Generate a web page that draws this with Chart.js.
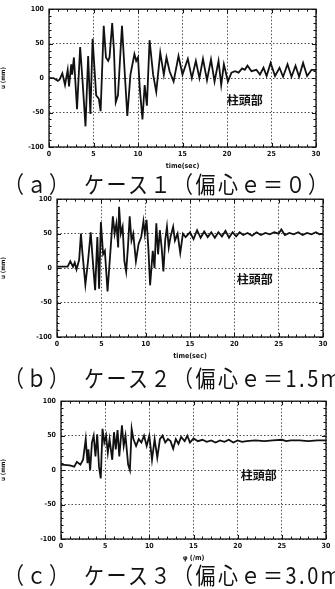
<!DOCTYPE html>
<html>
<head>
<meta charset="utf-8">
<script src="https://cdn.jsdelivr.net/npm/chart.js@4"></script>
<style>
  body { margin: 0; background: #fff; width: 335px; height: 589px; overflow: hidden; position: relative; }
  canvas { position: absolute; left: 0; }
  .cap {
    position: absolute; left: 4px; white-space: nowrap;
    font-family: "Noto Sans CJK JP", sans-serif; font-size: 20px; line-height: 24px;
    letter-spacing: 2.5px; color: #111; transform: scaleY(1.15); transform-origin: left center;
  }
</style>
</head>
<body>
<canvas id="c1" width="335" height="170" style="top:0px"></canvas>
<div class="cap" style="top:172px">（ａ）　ケース１（偏心ｅ＝０）</div>
<canvas id="c2" width="335" height="170" style="top:190px"></canvas>
<div class="cap" style="top:366px">（ｂ）　ケース２（偏心ｅ＝1.5ｍ</div>
<canvas id="c3" width="335" height="170" style="top:392px"></canvas>
<div class="cap" style="top:563px">（ｃ）　ケース３（偏心ｅ＝3.0ｍ</div>
<script>
// case 1 (e = 0)
const t1 = [
  0, 0.5, 1.0, 1.2, 1.5, 1.8, 2.1, 2.25, 2.5, 2.6,
  2.8, 3.15, 3.5, 3.8, 4.1, 4.4, 4.65, 4.9, 5.3, 5.6,
  5.8, 6.15, 6.4, 6.65, 6.8, 7.1, 7.3, 7.5, 7.75, 7.95,
  8.2, 8.5, 8.8, 9.15, 9.3, 9.6, 9.8, 10.0, 10.2, 10.5,
  10.75, 11.0, 11.3, 11.7, 12.05, 12.5, 12.9, 13.2, 13.55, 14.0,
  14.55, 15.0, 15.6, 16.05, 16.5, 16.9, 17.3, 17.75, 18.2, 18.6,
  19.05, 19.35, 19.65, 20.1, 20.5, 20.9, 21.3, 21.7, 22.0, 22.3,
  22.75, 23.3, 23.7, 24.1, 24.45, 24.9, 25.4, 25.9, 26.3, 26.8,
  27.25, 27.7, 28.1, 28.55, 29.0, 29.5, 30
];
const u1 = [
  0, 0, -4, -2, 7, -10, 12, -12, 20, 5,
  30, -45, 45, -10, -70, 32, -52, 57, -25, -30,
  -48, 76, 30, 25, 30, 80, 40, -35, -25, 20,
  76, 10, -55, 5, 15, 35, 25, 30, -15, -60,
  -10, -40, 55, 5, -20, 37, 5, 30, 10, -5,
  32, 5, 28, 0, 25, 0, 28, -3, 27, -5,
  25, -10, 20, -5, 8, 10, 8, 14, 12, 18,
  10, 12, 5, 15, 3, 22, 3, 15, 2, 20,
  2, 18, 2, 22, 3, 12, 12
];
// case 2 (e = 1.5m)
const t2 = [
  0, 1.2, 1.5, 1.8, 2.0, 2.2, 2.5, 2.7, 2.85, 3.2,
  3.5, 3.8, 4.1, 4.3, 4.55, 4.75, 4.95, 5.2, 5.4, 5.7,
  6.0, 6.3, 6.5, 6.7, 6.9, 7.0, 7.2, 7.4, 7.6, 7.8,
  8.0, 8.2, 8.4, 8.6, 8.9, 9.2, 9.5, 9.75, 9.9, 10.1,
  10.3, 10.5, 10.8, 11.0, 11.2, 11.4, 11.6, 11.8, 12.0, 12.2,
  12.4, 12.6, 12.8, 13.1, 13.3, 13.6, 13.9, 14.2, 14.5, 15.0,
  15.4, 15.8, 16.2, 16.6, 17.0, 17.4, 17.8, 18.2, 18.6, 19.0,
  19.4, 19.8, 20.2, 20.6, 21.0, 21.5, 22.0, 22.5, 23.0, 23.5,
  24.0, 24.5, 25.0, 25.3, 25.7, 26.2, 26.7, 27.2, 27.7, 28.2,
  28.7, 29.2, 29.6, 30
];
const u2 = [
  2, 2, 10, 2, 8, -2, 12, 50, 25, -24,
  10, 52, 0, -32, 45, -30, 67, 20, 25, -34,
  20, 75, 50, 65, 30, 89, 50, 60, 10, -5,
  30, 75, 40, 50, 10, 35, 45, 68, 50, 70,
  30, -25, 25, 0, 65, 20, 55, 30, -5, 40,
  60, 30, 45, 60, 40, 50, 22, 50, 45, 52,
  42, 55, 44, 53, 45, 52, 44, 52, 46, 54,
  44, 52, 46, 52, 48, 51, 47, 52, 48, 51,
  49, 52, 50, 56, 48, 51, 49, 52, 48, 51,
  49, 52, 49, 50
];
// case 3 (e = 3.0m)
const t3 = [
  0, 1.0, 1.5, 1.8, 2.2, 2.5, 2.8, 3.0, 3.1, 3.3,
  3.5, 3.7, 3.9, 4.1, 4.3, 4.5, 4.7, 4.9, 5.1, 5.3,
  5.5, 5.8, 6.0, 6.2, 6.4, 6.6, 6.9, 7.1, 7.3, 7.6,
  7.8, 8.0, 8.2, 8.5, 8.8, 9.1, 9.4, 9.7, 10.0, 10.3,
  10.6, 10.9, 11.2, 11.5, 11.8, 12.1, 12.4, 12.7, 13.0, 13.3,
  13.6, 14.0, 14.3, 14.6, 15.0, 15.5, 16.0, 16.5, 17.0, 17.5,
  18.0, 18.5, 19.0, 19.5, 20.0, 20.5, 21.0, 22.0, 23.0, 24.0,
  25.0, 25.5, 26.0, 27.0, 28.0, 29.0, 30
];
const u3 = [
  8, 7, 5, 12, 8, 15, 45, 10, 30, 0,
  40, 50, 20, 52, 5, -12, 60, 40, 50, 25,
  45, 15, 55, 30, 58, 20, 65, 35, 50, 8,
  0, 60, 45, 35, 45, 40, 50, 35, 50, 15,
  45, 18, 45, 50, 40, 45, 42, 31, 45, 38,
  48, 42, 50, 40, 46, 42, 44, 41, 43, 40,
  43, 41, 44, 40, 43, 41, 42, 43, 42, 43,
  44, 42, 43, 43, 42, 43, 43
];
const xTitles = ["time(sec)", "time(sec)", "φ (/m)"];
const yTitle = "u (mm)";
const noteText = "柱頭部";

const TICK_FONT = { family: "'DejaVu Sans Condensed', 'Liberation Sans Narrow', sans-serif", size: 7, weight: "bold" };

// frame, inner tick marks and the 柱頭部 note
const framePlugin = {
    id: "frame",
    afterDraw(chart, args, opts) {
        const { ctx, chartArea: a, scales } = chart;
        const x = scales.x, y = scales.y;
        ctx.save();
        ctx.strokeStyle = "#111";
        ctx.lineWidth = 1;
        for (let v = 0; v <= 30; v += 1) {
            const px = Math.round(x.getPixelForValue(v)) + 0.5;
            const len = v % 5 === 0 ? 4 : 2.5;
            ctx.beginPath();
            ctx.moveTo(px, a.bottom); ctx.lineTo(px, a.bottom - len);
            ctx.moveTo(px, a.top); ctx.lineTo(px, a.top + len);
            ctx.stroke();
        }
        for (let v = -100; v <= 100; v += 10) {
            const py = Math.round(y.getPixelForValue(v)) + 0.5;
            const len = v % 50 === 0 ? 4 : 2.5;
            ctx.beginPath();
            ctx.moveTo(a.left, py); ctx.lineTo(a.left + len, py);
            ctx.moveTo(a.right, py); ctx.lineTo(a.right - len, py);
            ctx.stroke();
        }
        ctx.lineWidth = 1.3;
        ctx.strokeRect(a.left, a.top, a.right - a.left, a.bottom - a.top);
        ctx.fillStyle = "#111";
        ctx.font = "bold 12px 'Noto Sans CJK JP', sans-serif";
        ctx.textAlign = "center";
        ctx.textBaseline = "middle";
        ctx.fillText(noteText, x.getPixelForValue(opts.noteX), y.getPixelForValue(opts.noteY));
        ctx.restore();
    },
};

function graphConfig(t, u, xTitle, box) {
    const points = t.map((tv, i) => ({ x: tv, y: u[i] }));
    return {
        type: "line",
        data: {
            datasets: [{
                data: points,
                borderColor: "#111",
                borderWidth: 1.8,
                pointRadius: 0,
                tension: 0,
                fill: false,
            }],
        },
        plugins: [framePlugin],
        options: {
            responsive: false,
            animation: false,
            devicePixelRatio: 1,
            layout: { padding: { top: box.top, right: box.right, left: 0, bottom: 0 } },
            plugins: {
                legend: { display: false },
                tooltip: { enabled: false },
                frame: { noteX: box.noteX, noteY: box.noteY },
            },
            scales: {
                x: {
                    type: "linear",
                    min: 0,
                    max: 30,
                    afterFit: (s) => { s.height = 23; },
                    ticks: { stepSize: 5, color: "#111", font: TICK_FONT, padding: 3, maxRotation: 0 },
                    grid: { color: "#222", lineWidth: 0.8, drawTicks: false },
                    border: { display: false, dash: [1.5, 2] },
                    title: {
                        display: true, text: xTitle, color: "#111",
                        font: TICK_FONT, padding: { top: 0, bottom: 0 },
                    },
                },
                y: {
                    min: -100,
                    max: 100,
                    afterFit: (s) => { s.width = box.left; },
                    ticks: { stepSize: 50, color: "#111", font: TICK_FONT, padding: 5 },
                    grid: { color: "#222", lineWidth: 0.8, drawTicks: false },
                    border: { display: false, dash: [1.5, 2] },
                    title: {
                        display: true, text: yTitle, color: "#111",
                        font: { family: TICK_FONT.family, size: 6, weight: "bold" }, padding: 0,
                    },
                },
            },
        },
    };
}

window.onload = function () {
    new Chart(document.getElementById("c1").getContext("2d"),
        graphConfig(t1, u1, xTitles[0], { left: 49, right: 19, top: 7, noteX: 22, noteY: -33 }));
    new Chart(document.getElementById("c2").getContext("2d"),
        graphConfig(t2, u2, xTitles[1], { left: 57, right: 12, top: 9, noteX: 22.3, noteY: -16 }));
    new Chart(document.getElementById("c3").getContext("2d"),
        graphConfig(t3, u3, xTitles[2], { left: 61, right: 9, top: 8, noteX: 22.4, noteY: -8 }));
};
</script>
</body>
</html>
